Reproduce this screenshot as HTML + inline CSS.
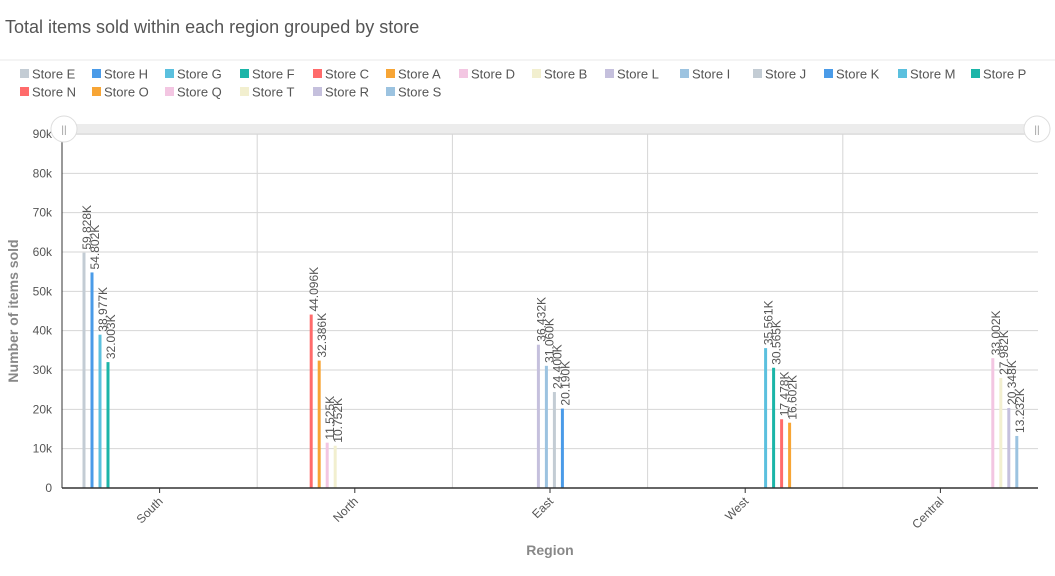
<!DOCTYPE html>
<html><head><meta charset="utf-8"><style>
body{margin:0;background:#fff;font-family:"Liberation Sans",sans-serif;}
svg{display:block}
</style></head><body>
<svg id="c" width="1055" height="576" font-family="Liberation Sans, sans-serif">
<text x="5" y="33" font-size="18" fill="#555">Total items sold within each region grouped by store</text>
<line x1="0" y1="60" x2="1055" y2="60" stroke="#e8e8e8"/>
<g id="legend"></g>
<rect x="64" y="124" width="973" height="11" fill="#ececec"/>
<g id="grid"></g><g id="bars"></g><g id="axes"></g>
<circle cx="64" cy="129" r="13" fill="#fff" stroke="#ddd"/>
<text x="64" y="133" font-size="10" fill="#999" text-anchor="middle">||</text>
<circle cx="1037" cy="129" r="13" fill="#fff" stroke="#ddd"/>
<text x="1037" y="133" font-size="10" fill="#999" text-anchor="middle">||</text>
<text transform="translate(18,311) rotate(-90)" font-size="14" font-weight="bold" fill="#888" text-anchor="middle">Number of items sold</text>
<text x="550" y="555" font-size="14" font-weight="bold" fill="#888" text-anchor="middle">Region</text>
</svg>
<script>
const regions=["South","North","East","West","Central"];
const stores=["Store E","Store H","Store G","Store F","Store C","Store A","Store D","Store B","Store L","Store I","Store J","Store K","Store M","Store P","Store N","Store O","Store Q","Store T","Store R","Store S"];
const storeRegion=[0,0,0,0,1,1,1,1,2,2,2,2,3,3,3,3,4,4,4,4];
const storeValues=[59828,54802,38977,32003,44096,32386,11525,10752,36432,31060,24400,20190,35561,30565,17478,16602,33002,27982,20348,13232];
const yTicks=[0,10000,20000,30000,40000,50000,60000,70000,80000,90000];
const yTickLabels=["0","10k","20k","30k","40k","50k","60k","70k","80k","90k"];
const colors=["#c3ccd4","#4a9be8","#5bc0de","#1bb5a8","#ff6b6b","#f7a535","#f3c6e2","#f2efcf","#c5c0dd","#9cc3e0","#c3ccd4","#4a9be8","#5bc0de","#1bb5a8","#ff6b6b","#f7a535","#f3c6e2","#f2efcf","#c5c0dd","#9cc3e0"];
const NS="http://www.w3.org/2000/svg";
const X0=62,X1=1038,Y0=488,Y1=134,YMAX=90000;
const bw=(X1-X0)/regions.length;
const y=v=>Y0-(v/YMAX)*(Y0-Y1);
const xc=(r,i)=>X0+r*bw+22+i*8;
function mk(t,a,p){const e=document.createElementNS(NS,t);for(const k in a)e.setAttribute(k,a[k]);p.appendChild(e);return e;}
const grid=document.getElementById('grid'),bars=document.getElementById('bars'),axes=document.getElementById('axes'),leg=document.getElementById('legend');
yTicks.forEach((v,i)=>{
 const l=mk('line',{x1:X0,x2:X1,y1:y(v),y2:y(v),stroke:'#d6d6d6'},grid);
 
 
 const t=mk('text',{x:X0-10,y:y(v)+4,'font-size':12,fill:'#555','text-anchor':'end'},axes);
 t.textContent=yTickLabels[i];
 
 
});
for(let r=1;r<regions.length;r++){
 const l=mk('line',{x1:X0+r*bw,x2:X0+r*bw,y1:Y1,y2:Y0,stroke:'#d6d6d6'},grid);
 
 
}
regions.forEach((r,i)=>{
 const cx=X0+(i+0.5)*bw;
 const tk=mk('line',{x1:cx,x2:cx,y1:Y0,y2:Y0+5,stroke:'#333'},axes);
 
 
 const t=mk('text',{transform:`translate(${cx+4},${Y0+14}) rotate(-45)`,'font-size':12,fill:'#555','text-anchor':'end'},axes);
 t.textContent=r;
 
 
});
const ax=mk('line',{x1:X0,x2:X1,y1:Y0,y2:Y0,stroke:'#333','stroke-width':1.5},axes);


const ay=mk('line',{x1:X0,x2:X0,y1:Y1,y2:Y0,stroke:'#333'},axes);


stores.forEach((s,i)=>{
 const x=xc(storeRegion[i],i),v=storeValues[i];
 const b=mk('rect',{x:x-1.5,y:y(v),width:3,height:Y0-y(v),fill:colors[i]},bars);
 
 
 const t=mk('text',{transform:`translate(${x+7},${y(v)-3}) rotate(-90)`,'font-size':12,fill:'#555'},bars);
 t.textContent=(v/1000).toFixed(3)+'K';
 
 
});
const legX=[20,92,165,240,313,386,459,532,605,680,753,824,898,971];
stores.forEach((s,i)=>{
 const row=i<14?0:1,col=i<14?i:i-14;
 const gx=legX[col],gy=row?92:74;
 const g=mk('g',{},leg);
 
 
 mk('rect',{x:gx,y:gy-5,width:9,height:9,fill:colors[i]},g);
 const t=mk('text',{x:gx+12,y:gy+4.5,'font-size':13,fill:'#555'},g);
 t.textContent=s;
});
</script>
</body></html>
